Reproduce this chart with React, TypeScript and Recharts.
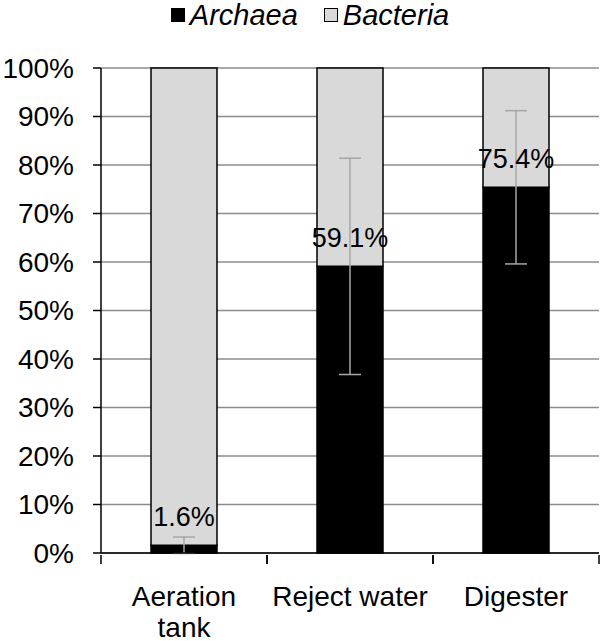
import React from "react";
import {
  Bar,
  BarChart,
  CartesianGrid,
  ErrorBar,
  LabelList,
  Legend,
  XAxis,
  YAxis,
} from "recharts";

const sites = ["Aeration tank", "Reject water", "Digester"];
const archaea = [1.6, 59.1, 75.4];
const bacteria = [98.4, 40.9, 24.6];
const archaeaErr = [1.7, 22.3, 15.8];
const yTicks = [0, 10, 20, 30, 40, 50, 60, 70, 80, 90, 100];

const FONT = "'Liberation Sans', Arial, Helvetica, sans-serif";
const BAND = (599 - 101) / sites.length;

const data = sites.map((name, i) => ({
  name,
  archaea: archaea[i],
  bacteria: bacteria[i],
  err: archaeaErr[i],
}));

// category label plus tick marks on the band edges, like the Excel axis
const SiteTick = (props: any) => {
  const { x, y, payload } = props;
  const lines = payload.value === "Aeration tank" ? ["Aeration", "tank"] : [payload.value];
  return (
    <g>
      <line x1={x - BAND / 2} x2={x - BAND / 2} y1={y} y2={y + 9} stroke="#000" strokeWidth={1.5} />
      <line x1={x + BAND / 2} x2={x + BAND / 2} y1={y} y2={y + 9} stroke="#000" strokeWidth={1.5} />
      {lines.map((l: string, k: number) => (
        <text
          key={k}
          x={x}
          y={y + 41 + k * 31}
          textAnchor="middle"
          dominantBaseline="central"
          fontFamily={FONT}
          fontSize={28}
          fill="#000"
        >
          {l}
        </text>
      ))}
    </g>
  );
};

const PctLabel = (props: any) => {
  const { x, y, width, value } = props;
  return (
    <text
      x={x + width / 2}
      y={y - 28}
      textAnchor="middle"
      dominantBaseline="central"
      fontFamily={FONT}
      fontSize={27}
      fill="#000"
    >
      {value}%
    </text>
  );
};

const LegendBox = () => (
  <div
    style={{
      display: "flex",
      justifyContent: "center",
      alignItems: "center",
      height: 30,
      paddingLeft: 22,
      fontFamily: FONT,
      fontSize: 29,
      lineHeight: "30px",
      fontStyle: "italic",
    }}
  >
    <span style={{ width: 14, height: 14, background: "#000", display: "inline-block", marginRight: 5 }} />
    <span style={{ marginRight: 24, paddingRight: 2 }}>Archaea</span>
    <span
      style={{
        width: 12,
        height: 12,
        background: "#d9d9d9",
        border: "1px solid #000",
        display: "inline-block",
        marginRight: 5,
      }}
    />
    <span style={{ paddingRight: 2 }}>Bacteria</span>
  </div>
);

export default function App() {
  return (
    <div style={{ position: "absolute", left: 0, top: 0, width: 600, height: 641, background: "#fff" }}>
      <BarChart
        width={600}
        height={641}
        data={data}
        margin={{ top: 38, right: 1, bottom: 0, left: 0 }}
        barSize={66}
      >
        <CartesianGrid vertical={false} stroke="#8c8c8c" strokeWidth={1.5} />
        <Legend
          verticalAlign="top"
          content={<LegendBox />}
          wrapperStyle={{ top: 0, left: 0, width: 600, height: 30 }}
        />
        <XAxis
          dataKey="name"
          height={88}
          tick={<SiteTick />}
          tickLine={false}
          tickSize={0}
          axisLine={{ stroke: "#000", strokeWidth: 1.5 }}
          interval={0}
        />
        <YAxis
          width={101}
          domain={[0, 100]}
          ticks={yTicks}
          tickFormatter={(v: number) => `${v}%`}
          tickSize={8}
          tickMargin={19}
          axisLine={{ stroke: "#000", strokeWidth: 1.5 }}
          tickLine={{ stroke: "#000", strokeWidth: 1.5 }}
          tick={{ fontFamily: FONT, fontSize: 28, fill: "#000" }}
        />
        <Bar dataKey="archaea" stackId="a" fill="#000" stroke="#000" strokeWidth={1.5} isAnimationActive={false}>
          <ErrorBar dataKey="err" width={11} stroke="#a6a6a6" strokeWidth={1.5} />
          <LabelList dataKey="archaea" content={<PctLabel />} />
        </Bar>
        <Bar dataKey="bacteria" stackId="a" fill="#d9d9d9" stroke="#000" strokeWidth={1.5} isAnimationActive={false} />
      </BarChart>
    </div>
  );
}
